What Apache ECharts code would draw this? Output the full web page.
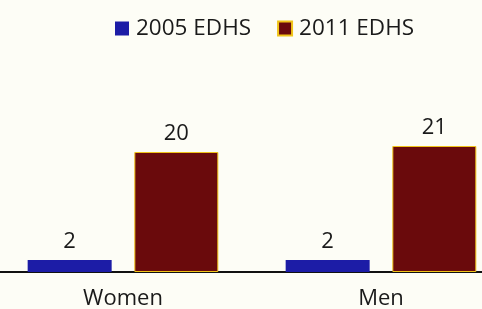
<!DOCTYPE html>
<html lang="en">
<head>
	<meta charset="UTF-8">
	<title>EDHS</title>
	<style type="text/css">
		html, body { margin: 0; padding: 0; background: #fdfdf6; }
		#a { width: 482px; height: 309px; }
	</style>
</head>
<body>
	<div id="a"></div>
	<script type="text/javascript" src="https://cdn.jsdelivr.net/npm/echarts@6/dist/echarts.min.js"></script>
	<script type="text/javascript">
		// data
		var categories = ['Women', 'Men'];
		var seriesNames = ['2005 EDHS', '2011 EDHS'];
		var v2005 = [2, 2];
		var v2011 = [20, 21];

		var myChart = echarts.init(document.getElementById('a'));
		var font = '"Open Sans", "Noto Sans", sans-serif';

		var option = {
			backgroundColor: '#fdfdf6',
			animation: false,
			legend: {
				data: seriesNames,
				top: 12,
				left: 110,
				icon: 'rect',
				itemWidth: 14,
				itemHeight: 14,
				itemGap: 26,
				textStyle: { fontFamily: font, fontSize: 22.5, color: '#1a1a1a', padding: [0, 0, 0, 2] }
			},
			grid: { left: -6, width: 516, bottom: 37, top: 122, outerBoundsMode: 'none' },
			xAxis: {
				type: 'category',
				data: categories,
				axisLine: { lineStyle: { color: '#111', width: 2 } },
				axisTick: { show: false },
				axisLabel: { fontFamily: font, fontSize: 22, color: '#1a1a1a', margin: 16 }
			},
			yAxis: {
				type: 'value',
				min: 0,
				max: 25,
				show: false
			},
			series: [
				{
					name: seriesNames[0],
					type: 'bar',
					data: v2005,
					barWidth: 84,
					barGap: '27%',
					itemStyle: { color: '#1c1ca6' },
					label: { show: true, position: 'top', distance: 7, fontFamily: font, fontSize: 22, color: '#1a1a1a' }
				},
				{
					name: seriesNames[1],
					type: 'bar',
					data: v2011,
					barWidth: 84,
					itemStyle: { color: '#6a0a0c', borderColor: '#f0c419', borderWidth: 1 },
					label: { show: true, position: 'top', distance: 7, fontFamily: font, fontSize: 22, color: '#1a1a1a' }
				}
			]
		};
		myChart.setOption(option);
	</script>
</body>
</html>
